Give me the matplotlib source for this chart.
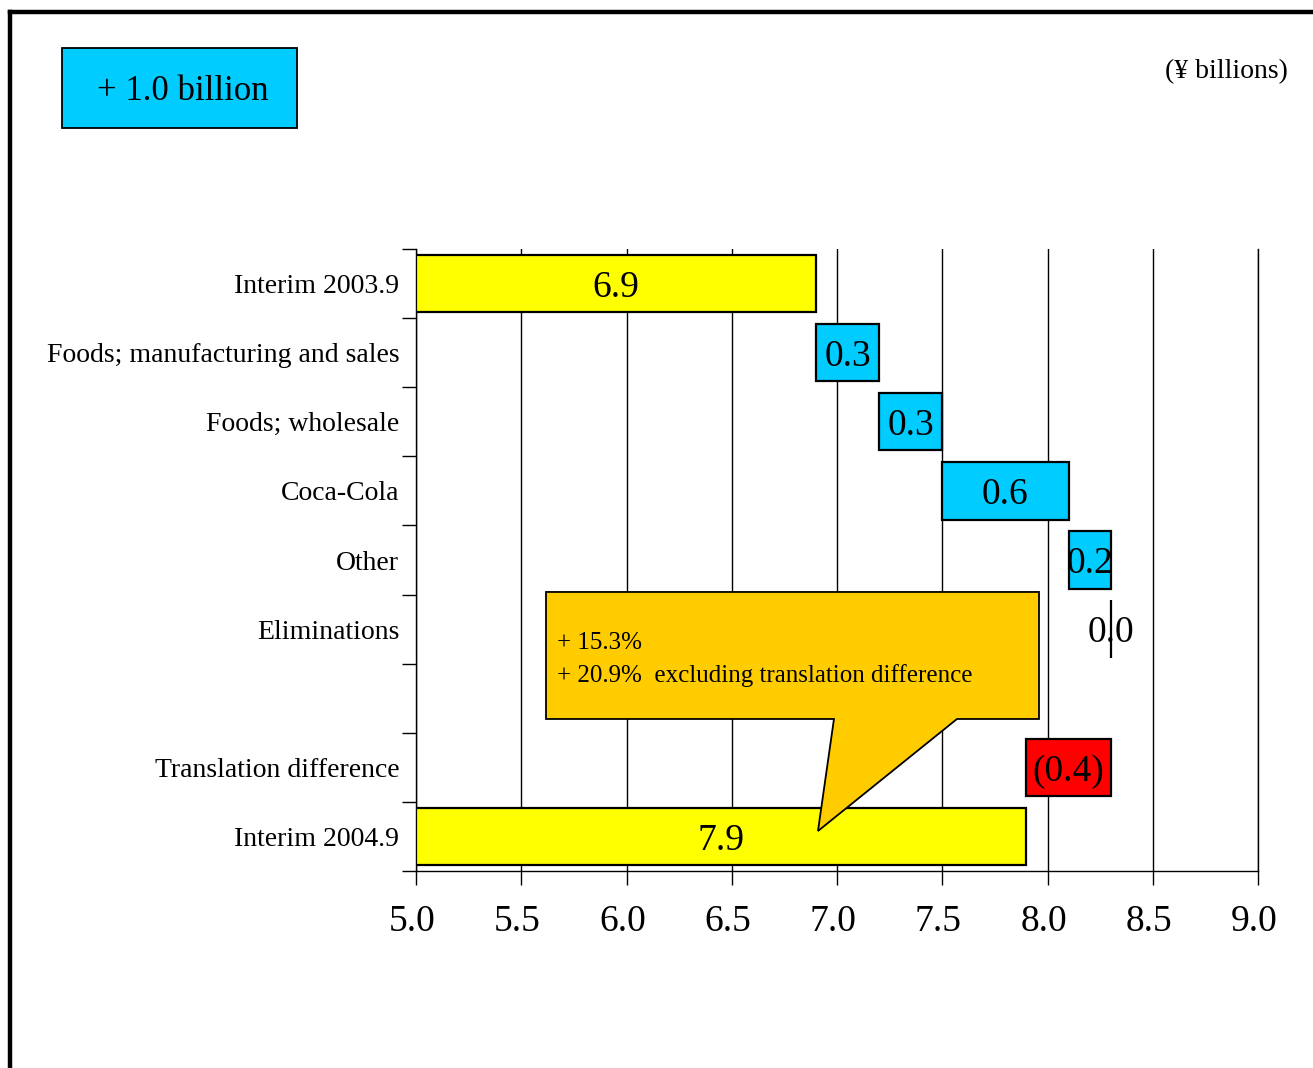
import matplotlib
matplotlib.use("Agg")
import matplotlib.pyplot as plt
from matplotlib.patches import Polygon, Rectangle
from matplotlib.lines import Line2D
from matplotlib.transforms import ScaledTranslation

plt.rcParams['font.family'] = ['Liberation Serif', 'DejaVu Serif']

# ---- data ----
categories = ["Interim 2003.9", "Foods; manufacturing and sales", "Foods; wholesale",
              "Coca-Cola", "Other", "Eliminations", "", "Translation difference",
              "Interim 2004.9"]
kinds = ["total", "delta", "delta", "delta", "delta", "delta", "blank", "delta", "total"]
values = [6.9, 0.3, 0.3, 0.6, 0.2, 0.0, None, -0.4, 7.9]
value_labels = ["6.9", "0.3", "0.3", "0.6", "0.2", "0.0", "", "(0.4)", "7.9"]
x_ticks = [5.0, 5.5, 6.0, 6.5, 7.0, 7.5, 8.0, 8.5, 9.0]
x_tick_labels = ["5.0", "5.5", "6.0", "6.5", "7.0", "7.5", "8.0", "8.5", "9.0"]
axis_start = 5.0
summary_text = "+ 1.0 billion"
unit_text = "(\u00a5 billions)"
callout_lines = ["+ 15.3%", "+ 20.9%  excluding translation difference"]

W, H = 1313, 1068
fig = plt.figure(figsize=(W / 100, H / 100), dpi=100)
ax = fig.add_axes([416 / W, 1 - 871 / H, 842 / W, 622 / H])

n = len(categories)
ax.set_xlim(x_ticks[0], x_ticks[-1])
ax.set_ylim(n, 0)

down4 = ScaledTranslation(0, -4 / 100, fig.dpi_scale_trans)

running = None
bar_h = 0.83
for i, (k, v, lab) in enumerate(zip(kinds, values, value_labels)):
    yc = i + 0.5
    if k == "blank":
        continue
    if k == "total":
        left, width, color = axis_start, v - axis_start, "#FFFF00"
        running = v
    else:
        if v >= 0:
            left, width, color = running, v, "#00CCFF"
        else:
            left, width, color = running + v, -v, "#FF0000"
        running = running + v
    ax.barh(yc, width, left=left, height=bar_h, color=color, edgecolor="black",
            linewidth=1.6, zorder=3)
    ax.text(left + width / 2, yc, lab, ha="center", va="center", fontsize=27,
            zorder=4, transform=ax.transData + down4)

# grid & axes styling
ax.set_xticks(x_ticks)
ax.set_xticklabels(x_tick_labels, fontsize=27)
ax.xaxis.grid(True, color="black", linewidth=1.0, zorder=0)
ax.set_axisbelow(True)
ax.tick_params(axis="x", direction="out", length=10, width=1.0, pad=14)
shift_left = ScaledTranslation(-4 / 100, 0, fig.dpi_scale_trans)
for lbl in ax.get_xticklabels():
    lbl.set_transform(lbl.get_transform() + shift_left)

ax.set_yticks(range(n + 1))
ax.set_yticklabels([])
ax.set_yticks([i + 0.5 for i in range(n)], minor=True)
ax.set_yticklabels(categories, minor=True, fontsize=20)
ax.tick_params(axis="y", which="major", direction="out", length=10, width=1.0)
ax.tick_params(axis="y", which="minor", length=0, pad=12)

ax.spines["top"].set_visible(False)
ax.spines["right"].set_visible(True)
for s in ["left", "bottom", "right"]:
    ax.spines[s].set_linewidth(1.0)

# callout balloon (axes fraction coords)
callout = Polygon([(0.1544, 0.4486), (0.7399, 0.4486), (0.7399, 0.2444),
                   (0.6425, 0.2444), (0.4774, 0.0643), (0.4964, 0.2444),
                   (0.1544, 0.2444)], closed=True, transform=ax.transAxes,
                  facecolor="#FFCC00", edgecolor="black", linewidth=1.3,
                  zorder=6, clip_on=False)
ax.add_patch(callout)
ax.text(0.1675, 0.3665, callout_lines[0], transform=ax.transAxes, fontsize=18,
        ha="left", va="center", zorder=7)
ax.text(0.1675, 0.3150, callout_lines[1], transform=ax.transAxes, fontsize=18,
        ha="left", va="center", zorder=7)

# summary box
fig.patches.append(Rectangle((62 / W, 1 - 128 / H), 235 / W, 80 / H,
                             transform=fig.transFigure, facecolor="#00CCFF",
                             edgecolor="black", linewidth=1.3))
fig.text(183 / W, 1 - 92 / H, summary_text, ha="center", va="center", fontsize=25)
fig.text(1288 / W, 1 - 72 / H, unit_text, ha="right", va="center", fontsize=20)

# page frame (top & left thick borders)
fig.add_artist(Line2D([10 / W, 1.0], [1 - 12 / H, 1 - 12 / H],
                      transform=fig.transFigure, color="black", linewidth=3.2,
                      solid_capstyle="projecting"))
fig.add_artist(Line2D([10 / W, 10 / W], [1 - 12 / H, 0.0],
                      transform=fig.transFigure, color="black", linewidth=3.2,
                      solid_capstyle="projecting"))

fig.savefig("out.png", dpi=100)
